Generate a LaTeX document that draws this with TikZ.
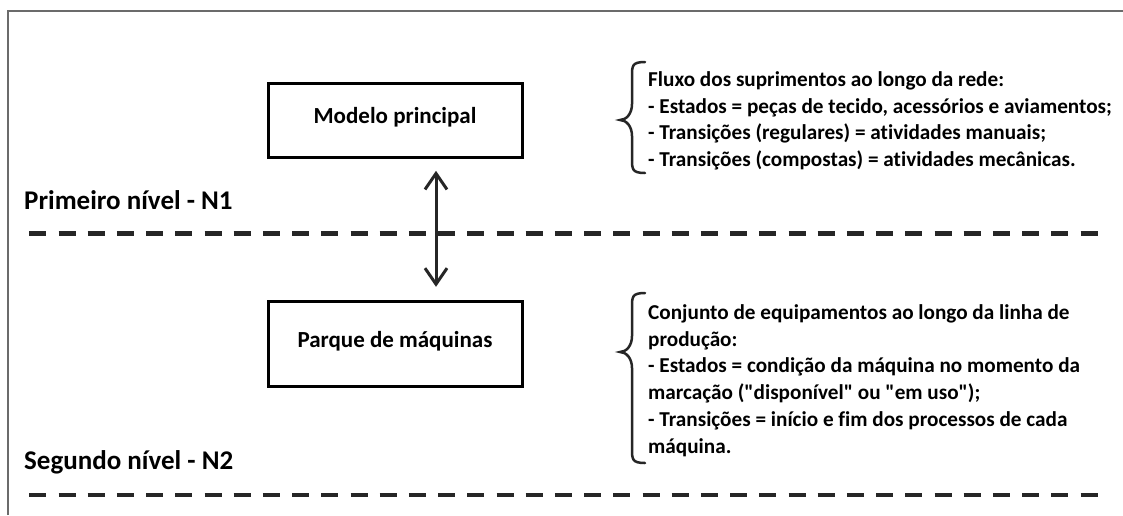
\documentclass[tikz,border=0pt]{standalone}
\usepackage{fontspec}
\setmainfont{Carlito}[Ligatures={TeXOff,NoCommon}]
\usetikzlibrary{arrows.meta}
\begin{document}
\begin{tikzpicture}[x=1pt,y=-1pt,
  box/.style={draw=black, line width=3pt, minimum width=254pt, inner sep=0pt,
    font=\fontsize{23}{27}\selectfont\bfseries, text height=16pt, text depth=10pt},
  level/.style={anchor=base west, inner sep=0pt, font=\fontsize{27}{32}\selectfont\bfseries},
  note/.style={anchor=base west, inner sep=0pt, font=\fontsize{21.2}{26.7}\selectfont\bfseries},
  sepline/.style={line width=4.5pt, dash pattern=on 17pt off 12.2pt, draw=black!85},
  arr/.style={line width=3pt, draw=black!85,
    {Straight Barb[length=16pt,width=22pt]}-{Straight Barb[length=16pt,width=22pt]}},
  bracepath/.style={line width=2.5pt, draw=black!85, line cap=round},
  frame/.style={line width=1.5pt, draw=black!58}]
\useasboundingbox[fill=white] (0,0) rectangle (1123,515);
% frame
\draw[frame] (8,515) -- (8,11) -- (1123,11);
% boxes
\node[box, minimum height=74pt] (m1) at (395,120.3) {Modelo principal};
\node[box, minimum height=85pt] (m2) at (395,344.2) {Parque de máquinas};
% arrow
\draw[arr, shorten <=12pt, shorten >=13.4pt] ([xshift=41pt]m1.south) -- ([xshift=41pt]m2.north);
% level labels
\node[level] (l1) at (24,209.3) {Primeiro nível - N1};
\node[level] (l2) at (24,469.3) {Segundo nível - N2};
% separators
\draw[sepline] (29.3,233.5) -- (1098,233.5);
\draw[sepline] (29.3,495) -- (1098,495);
% braces
\draw[bracepath] (645,62) .. controls (632,62) and (632,66) .. (632,76) -- (632,104)
  .. controls (632,114) and (626,120) .. (620,120)
  .. controls (626,120) and (632,126) .. (632,136) -- (632,159)
  .. controls (632,169) and (632,173) .. (645,173);
\draw[bracepath] (645,293) .. controls (632,293) and (632,297) .. (632,307) -- (632,336)
  .. controls (632,346) and (626,352) .. (620,352)
  .. controls (626,352) and (632,358) .. (632,368) -- (632,449)
  .. controls (632,459) and (632,463) .. (645,463);
% notes
\node[note] (n1) at (648,86.5) {\begin{tabular}[t]{@{}l@{}}
Fluxo dos suprimentos ao longo da rede:\\
- Estados = peças de tecido, acessórios e aviamentos;\\
- Transições (regulares) = atividades manuais;\\
- Transições (compostas) = atividades mecânicas.
\end{tabular}};
\node[note] (n2) at (648,319.5) {\begin{tabular}[t]{@{}l@{}}
Conjunto de equipamentos ao longo da linha de\\
produção:\\
- Estados = condição da máquina no momento da\\
marcação ("disponível" ou "em uso");\\
- Transições = início e fim dos processos de cada\\
máquina.
\end{tabular}};
\end{tikzpicture}
\end{document}
